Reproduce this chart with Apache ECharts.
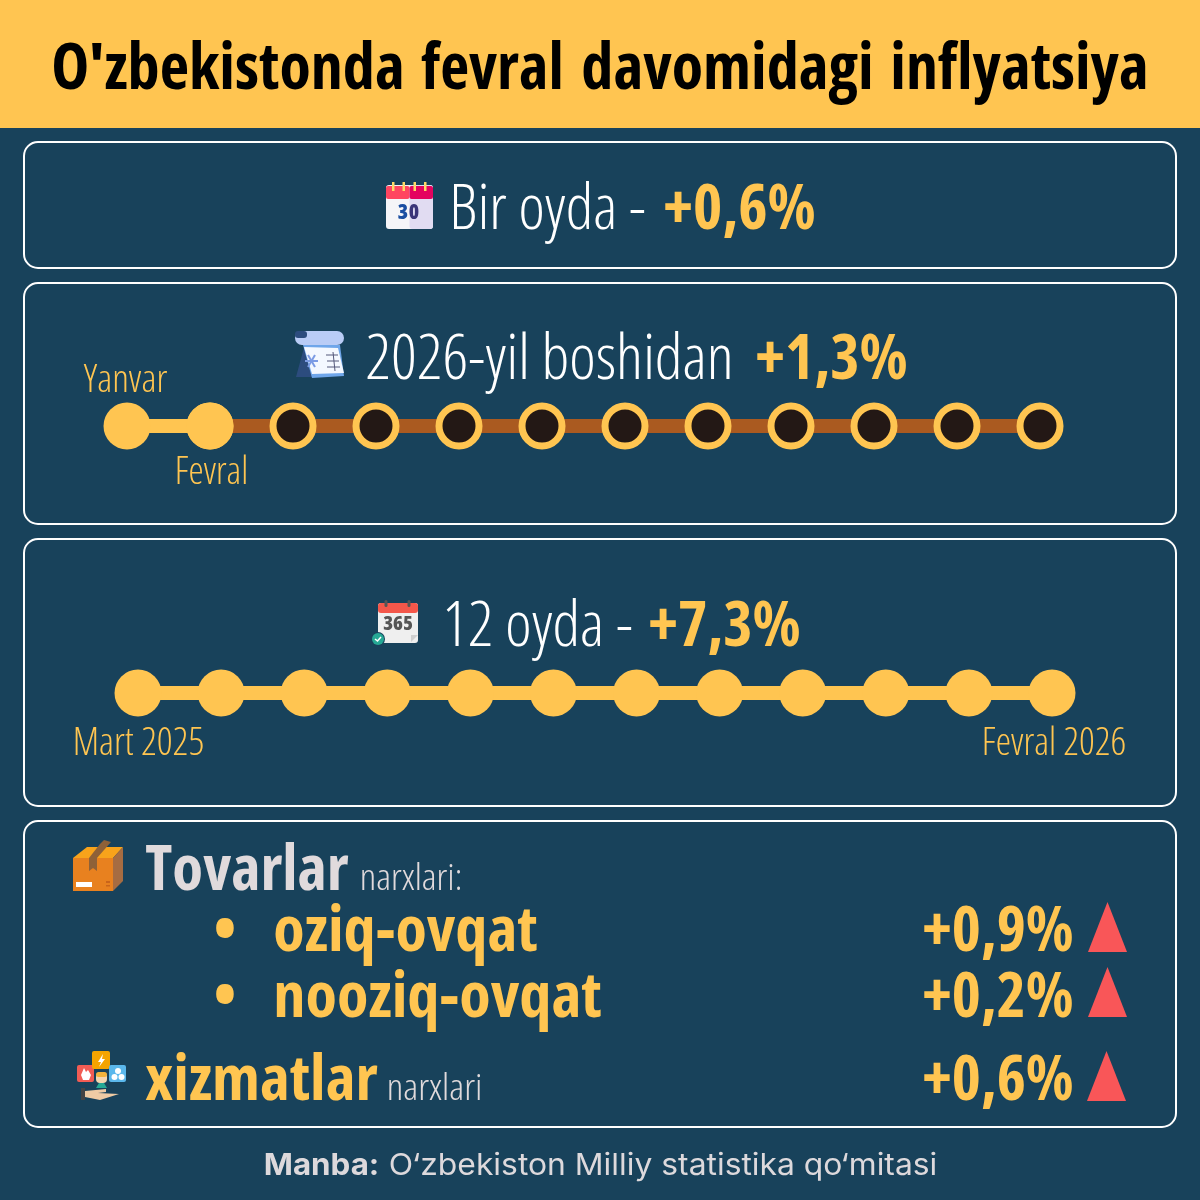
<!DOCTYPE html>
<html>
<head>
<meta charset="utf-8">
<style>
html, body { margin: 0; padding: 0; background: #18425B; }
#chart { width: 1200px; height: 1200px; }
</style>
<script src="https://cdn.jsdelivr.net/npm/echarts@6/dist/echarts.min.js"></script>
</head>
<body>
<div id="chart"></div>
<script>
var monthsYear = ['Yanvar', 'Fevral', 'Mart', 'Aprel', 'May', 'Iyun', 'Iyul', 'Avgust', 'Sentyabr', 'Oktyabr', 'Noyabr', 'Dekabr'];
var passedYear = [1, 1, null, null, null, null, null, null, null, null, null, null];
var aheadYear = [null, 1, 1, 1, 1, 1, 1, 1, 1, 1, 1, 1];
var months12 = ['Mart 2025', 'Aprel', 'May', 'Iyun', 'Iyul', 'Avgust', 'Sentyabr', 'Oktyabr', 'Noyabr', 'Dekabr', 'Yanvar', 'Fevral 2026'];
var passed12 = [1, 1, 1, 1, 1, 1, 1, 1, 1, 1, 1, 1];
var headlineValues = ['+0,6%', '+1,3%', '+7,3%'];
var groupNames = ['oziq-ovqat', 'nooziq-ovqat', 'xizmatlar'];
var groupValues = ['+0,9%', '+0,2%', '+0,6%'];

var GOLD = '#FFC551';
var BG = '#18425B';
var RED = '#F95658';
var measure = document.createElement('canvas').getContext('2d');
var els = [];

// text squeezed to the width it has in the picture
function txt(str, x0, x1, base, size, weight, color, family) {
    var font = family ? weight + ' ' + size + 'px ' + family : 'condensed ' + weight + ' ' + size + 'px "Open Sans"';
    measure.font = font;
    var pad = size > 50 ? 0.7 : 0.3;
    var w = measure.measureText(str).width;
    els.push({
        type: 'text', x: x0 - pad, y: base - size * 0.30, scaleX: (x1 - x0 + pad * 2) / w, z: 10,
        style: { text: str, font: font, fill: color, align: 'left', verticalAlign: 'middle' }
    });
}
function rect(x, y, w, h, fill, r) {
    els.push({ type: 'rect', z: 10, shape: { x: x, y: y, width: w, height: h, r: r || 0 }, style: { fill: fill } });
}
function poly(points, fill) {
    els.push({ type: 'polygon', z: 10, shape: { points: points }, style: { fill: fill } });
}
function dot(x, y, r, fill) {
    els.push({ type: 'circle', z: 10, shape: { cx: x, cy: y, r: r }, style: { fill: fill } });
}
function stroke(points, color, width) {
    els.push({ type: 'polyline', z: 10, shape: { points: points }, style: { stroke: color, lineWidth: width, fill: null } });
}
function panel(y0, y1) {
    els.push({
        type: 'rect', z: 1, shape: { x: 24, y: y0, width: 1152, height: y1 - y0, r: 14 },
        style: { fill: 'transparent', stroke: '#FFFFFF', lineWidth: 2 }
    });
}
function iconText(str, x, y, size, color) {
    els.push({
        type: 'text', x: x, y: y, z: 11,
        style: { text: str, font: 'condensed 800 ' + size + 'px "Open Sans"', fill: color, align: 'center', verticalAlign: 'middle' }
    });
}

// header and panels
rect(0, 0, 1200, 128, GOLD);
panel(142, 268);
panel(283, 524);
panel(539, 806);
panel(821, 1127);

// title words sit a little wider apart than the font spaces them
txt("O'zbekistonda", 52, 404, 90, 64, 700, '#000000');
txt('fevral', 422, 563, 90, 64, 700, '#000000');
txt('davomidagi', 582, 873, 90, 64, 700, '#000000');
txt('inflyatsiya', 891, 1148, 90, 64, 700, '#000000');

txt('Bir oyda -', 450, 645, 230, 62, 300, '#FFFFFF');
txt(headlineValues[0], 664, 815, 230, 62, 700, GOLD);
txt('2026-yil boshidan', 366, 733, 380, 62, 300, '#FFFFFF');
txt(headlineValues[1], 756, 907, 380, 62, 700, GOLD);
txt(monthsYear[0], 84, 167, 393, 38, 300, GOLD);
txt(monthsYear[1], 175, 248, 484.5, 38, 300, GOLD);
txt('12 oyda -', 443, 632, 647, 62, 300, '#FFFFFF');
txt(headlineValues[2], 649, 800, 647, 62, 700, GOLD);
txt(months12[0], 73, 204, 756, 38, 300, GOLD);
txt(months12[11], 982, 1126, 756, 38, 300, GOLD);

txt('Tovarlar', 146, 348, 891, 62, 700, '#E0DADC');
txt('narxlari:', 360, 462, 891, 36, 300, '#E0DADC');
txt('•', 214, 236, 952, 62, 700, GOLD);
txt(groupNames[0], 274, 537, 952, 62, 700, GOLD);
txt('•', 214, 236, 1018, 62, 700, GOLD);
txt(groupNames[1], 274, 601, 1018, 62, 700, GOLD);
txt(groupNames[2], 146, 377, 1101, 62, 700, GOLD);
txt('narxlari', 387, 482, 1101, 36, 300, '#E0DADC');
txt(groupValues[0], 923, 1073, 952, 62, 700, GOLD);
txt(groupValues[1], 923, 1073, 1018, 62, 700, GOLD);
txt(groupValues[2], 923, 1073, 1101, 62, 700, GOLD);

poly([[1107.5, 902], [1127, 952], [1088, 952]], RED);
poly([[1107.5, 967], [1127, 1017], [1088, 1017]], RED);
poly([[1106.5, 1051], [1126, 1101], [1087, 1101]], RED);

txt('Manba:', 264, 379, 1175, 30, 700, '#DDD9DC', 'Inter');
txt('O‘zbekiston Milliy statistika qo‘mitasi', 389, 937, 1175, 30, 400, '#DDD9DC', 'Inter');

// calendar "30"
rect(386, 185, 47, 44, '#F5F5F8', 3);
rect(409.5, 185, 23.5, 44, '#E1DCF2', 3);
rect(386, 186, 23.5, 13, '#FF4560', 2);
rect(409.5, 186, 23.5, 13, '#E4035F', 2);
[393, 403.5, 414.5, 425].forEach(function (x) { rect(x - 1, 182, 2.5, 9, '#FFD968'); });
iconText('3', 403, 213, 21, '#1A4EA2');
iconText('0', 414, 213, 21, '#3B3578');

// winter calendar
poly([[305, 344], [296, 377], [316, 377], [312, 344]], '#2C4C7E');
poly([[303, 345], [340, 345], [344, 376], [312, 378]], '#6FA6EA');
poly([[304, 347], [338, 348], [344, 373], [312, 374]], '#F4F8FF');
rect(295, 331, 49, 14, '#B9CCF6', 7);
rect(295, 331, 12, 7, '#2C4C7E', 3);
stroke([[305, 361], [318, 361]], '#7C9BE4', 2);
stroke([[308, 355], [315, 367]], '#7C9BE4', 2);
stroke([[315, 355], [308, 367]], '#7C9BE4', 2);
stroke([[326, 355], [338, 355]], '#55587A', 1);
stroke([[327, 361], [339, 361]], '#55587A', 1);
stroke([[327, 367], [340, 367]], '#55587A', 1);
stroke([[333, 352], [335, 371]], '#55587A', 1);

// calendar "365"
rect(378, 603, 40, 40, '#EFEFEF', 3);
rect(378, 603, 40, 10, '#F4574A', 3);
rect(384.5, 600, 3, 7, '#555555', 1.5);
rect(407.5, 600, 3, 7, '#555555', 1.5);
poly([[411, 642], [418, 635], [411, 635]], '#CFCFCF');
iconText('365', 398, 624, 20, '#555555');
dot(378, 639, 7, BG);
dot(378, 639, 6, '#26A895');
stroke([[375, 639], [377.5, 641], [381, 637]], '#FFFFFF', 1.5);

// box
poly([[73, 858], [87, 847], [123, 847], [113, 858]], '#F8A31B');
rect(73, 858, 40, 33, '#E8811F');
poly([[113, 858], [123, 847], [123, 881], [113, 891]], '#A66C42');
poly([[89, 858], [97, 858], [111, 842], [104, 840], [100, 844]], '#8E6138');
poly([[89, 858], [97, 858], [97, 871], [93, 868], [89, 871]], '#8E6138');
rect(76, 882, 16, 5, '#FFFFFF');
rect(106, 881, 4, 2, '#C9641A');
rect(106, 885, 4, 1.5, '#C9641A');

// services
rect(77, 1065, 17, 17, '#F25C54', 2);
poly([[83, 1080], [81, 1075], [84, 1068], [86, 1072], [88, 1070], [91, 1075], [89, 1080]], '#FFFFFF');
rect(92, 1051, 18, 18, '#F5A400', 2);
poly([[103, 1054], [98, 1062], [101, 1062], [99, 1067], [105, 1059], [102, 1059]], '#FFFFFF');
rect(109, 1065, 17, 17, '#5BB8EC', 2);
dot(118, 1071, 3, '#FFFFFF');
dot(114.5, 1077, 3, '#FFFFFF');
dot(121.5, 1077, 3, '#FFFFFF');
rect(96, 1073, 11, 10, '#F5D6B0', 4);
rect(96, 1072, 11, 5, '#F2B33D', 3);
poly([[96, 1088], [99, 1083], [104, 1083], [107, 1088]], '#26A895');
poly([[85, 1091], [106, 1089], [106, 1092], [98, 1093], [119, 1094], [100, 1100], [85, 1097]], '#EFCBA4');
rect(81, 1088, 4, 12, '#444444');

var option = {
    backgroundColor: BG,
    animation: false,
    grid: [
        { left: 127, width: 913, top: 400, height: 52 },
        { left: 138, width: 914, top: 667, height: 52 }
    ],
    xAxis: [
        { type: 'category', gridIndex: 0, data: monthsYear, boundaryGap: false, show: false },
        { type: 'category', gridIndex: 1, data: months12, boundaryGap: false, show: false }
    ],
    yAxis: [
        { type: 'value', gridIndex: 0, min: 0, max: 2, show: false },
        { type: 'value', gridIndex: 1, min: 0, max: 2, show: false }
    ],
    series: [
        {
            type: 'line', xAxisIndex: 0, yAxisIndex: 0, data: aheadYear, z: 3,
            lineStyle: { color: '#AA5A20', width: 14 },
            symbol: 'circle', symbolSize: 40, showAllSymbol: true,
            itemStyle: { color: '#231815', borderColor: GOLD, borderWidth: 7 }
        },
        {
            type: 'line', xAxisIndex: 0, yAxisIndex: 0, data: passedYear, z: 4,
            lineStyle: { color: GOLD, width: 14 },
            symbol: 'circle', symbolSize: 47, showAllSymbol: true,
            itemStyle: { color: GOLD }
        },
        {
            type: 'line', xAxisIndex: 1, yAxisIndex: 1, data: passed12, z: 4,
            lineStyle: { color: GOLD, width: 14 },
            symbol: 'circle', symbolSize: 47, showAllSymbol: true,
            itemStyle: { color: GOLD }
        }
    ],
    graphic: els
};

var myChart = echarts.init(document.getElementById('chart'), null, { renderer: 'canvas' });
myChart.setOption(option);
</script>
</body>
</html>
